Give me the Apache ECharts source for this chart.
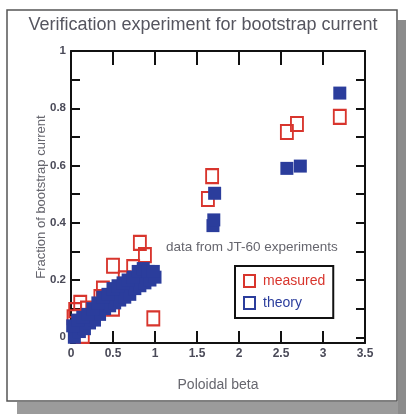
<!DOCTYPE html>
<html><head><meta charset="utf-8">
<script src="https://cdn.jsdelivr.net/npm/echarts@6/dist/echarts.min.js"></script>
<style>html,body{margin:0;padding:0;background:#fff}#c{width:406px;height:414px}</style>
</head><body><div id="c"></div>
<script>
const titleText = "Verification experiment for bootstrap current";
const xName = "Poloidal beta";
const yName = "Fraction of bootstrap current";
const noteText = "data from JT-60 experiments";
const seriesNames = ["measured", "theory"];
const yLabelValues = [0, 0.2, 0.4, 0.6, 0.8, 1];
const yTickValues = [0, 0.1, 0.2, 0.3, 0.4, 0.5, 0.6, 0.7, 0.8, 0.9, 1];
const xLabelValues = [0, 0.5, 1, 1.5, 2, 2.5, 3, 3.5];

const measuredX = [0.03, 0.05, 0.11, 0.19, 0.14, 0.35, 0.38, 0.50, 0.50, 0.64, 0.74, 0.82, 0.88, 0.98, 1.63, 1.68, 2.57, 2.69, 3.20];
const measuredY = [0.07, 0.095, 0.12, 0.10, 0.005, 0.14, 0.17, 0.10, 0.25, 0.206, 0.245, 0.33, 0.287, 0.066, 0.483, 0.563, 0.717, 0.745, 0.77];

const theoryX = [0.04, 0.10, 0.16, 0.22, 0.28, 0.34, 0.40, 0.46, 0.52, 0.58, 0.64, 0.70, 0.76, 0.82, 0.88, 0.94, 1.00,
                 0.02, 0.08, 0.14, 0.20, 0.26, 0.32, 0.38, 0.44, 0.50, 0.56, 0.62, 0.68, 0.74, 0.80, 0.86, 0.92, 0.98,
                 1.69, 1.70, 1.71, 2.57, 2.73, 3.20];
const theoryY = [0.00, 0.02, 0.03, 0.05, 0.06, 0.08, 0.10, 0.11, 0.12, 0.13, 0.14, 0.15, 0.17, 0.18, 0.19, 0.20, 0.21,
                 0.04, 0.06, 0.07, 0.08, 0.10, 0.12, 0.14, 0.15, 0.17, 0.18, 0.19, 0.20, 0.21, 0.23, 0.24, 0.23, 0.23,
                 0.39, 0.41, 0.503, 0.59, 0.598, 0.853];

const RED = "#d8352d", BLUE = "#2b3d9c", GRAY = "#66666e";
const chart = echarts.init(document.getElementById('c'), null, {renderer: 'canvas'});
const zip = (a, b) => a.map((v, i) => [v, b[i]]);
const fmt = v => String(Math.round(v * 10) / 10);

const axisCommon = {
  axisLine: {show: true, onZero: false, lineStyle: {color: '#111', width: 2}},
  splitLine: {show: false}
};

chart.setOption({
  animation: false,
  backgroundColor: '#fff',
  title: {text: titleText, left: 'center', top: 11,
    textStyle: {fontFamily: 'Liberation Sans', fontSize: 18, fontWeight: 'normal', color: '#55555f'}},
  grid: {left: 71, right: 41, top: 51, bottom: 71},
  xAxis: [
    Object.assign({}, axisCommon, {type: 'value', min: 0, max: 3.5, interval: 0.5, position: 'bottom',
      name: xName, nameLocation: 'middle', nameGap: 35,
      nameTextStyle: {fontFamily: 'Liberation Sans', fontSize: 14, color: GRAY},
      axisTick: {show: true, inside: true, length: 12, lineStyle: {color: '#111', width: 2}},
      axisLabel: {show: true, margin: 5, fontFamily: 'Liberation Sans', fontSize: 12, fontWeight: 'bold', color: '#4a4a58', formatter: fmt, customValues: xLabelValues}}),
    Object.assign({}, axisCommon, {type: 'value', min: 0, max: 3.5, interval: 0.5, position: 'top',
      axisTick: {show: true, inside: true, length: 14, lineStyle: {color: '#111', width: 2}},
      axisLabel: {show: false}})
  ],
  yAxis: [
    Object.assign({}, axisCommon, {type: 'value', min: -0.02, max: 1, position: 'left',
      name: yName, nameLocation: 'middle', nameGap: 23, nameRotate: 90, nameMoveOverlap: false,
      nameTextStyle: {fontFamily: 'Liberation Sans', fontSize: 13, color: GRAY},
      axisTick: {show: true, inside: true, length: 9, lineStyle: {color: '#111', width: 2}, customValues: yTickValues},
      axisLabel: {show: true, margin: 5, fontFamily: 'Liberation Sans', fontSize: 11.5, fontWeight: 'bold', color: '#4a4a58', formatter: fmt, customValues: yLabelValues}}),
    Object.assign({}, axisCommon, {type: 'value', min: -0.02, max: 1, position: 'right',
      axisTick: {show: true, inside: true, length: 9, lineStyle: {color: '#111', width: 2}, customValues: yTickValues},
      axisLabel: {show: false}})
  ],
  legend: {
    left: 235, top: 266, orient: 'vertical',
    padding: [8, 8, 8, 8], itemGap: 8, itemWidth: 11, itemHeight: 12,
    borderColor: '#111', borderWidth: 2, backgroundColor: '#fff',
    data: [
      {name: seriesNames[0], icon: 'rect', itemStyle: {color: 'transparent', borderColor: RED, borderWidth: 2}, textStyle: {color: RED}},
      {name: seriesNames[1], icon: 'rect', itemStyle: {color: 'transparent', borderColor: BLUE, borderWidth: 2}, textStyle: {color: BLUE}}
    ],
    textStyle: {fontFamily: 'Liberation Sans', fontSize: 14, padding: [0, 0, 0, 3]}
  },
  graphic: [
    {type: 'rect', shape: {x: 17, y: 402, width: 389, height: 12}, style: {fill: '#9b9b9b'}, z: 0},
    {type: 'rect', shape: {x: 398, y: 20, width: 8, height: 394}, style: {fill: '#8c8c8c'}, z: 0},
    {type: 'rect', shape: {x: 7, y: 10, width: 390, height: 391}, style: {fill: 'none', stroke: '#555', lineWidth: 1.5}, z: 0},
    {type: 'text', left: 166, top: 240, style: {text: noteText, fontFamily: 'Liberation Sans', fontSize: 13.5, fill: GRAY}, z: 10}
  ],
  series: [
    {name: seriesNames[0], type: 'scatter', xAxisIndex: 0, yAxisIndex: 0, symbol: 'rect', symbolSize: [12, 14],
      itemStyle: {color: 'transparent', borderColor: RED, borderWidth: 2, opacity: 1},
      data: zip(measuredX, measuredY), z: 2},
    {name: seriesNames[1], type: 'scatter', xAxisIndex: 0, yAxisIndex: 0, symbol: 'rect', symbolSize: [13, 13],
      itemStyle: {color: BLUE, borderColor: BLUE, borderWidth: 0, opacity: 1},
      data: zip(theoryX, theoryY), z: 3}
  ]
});
</script></body></html>
